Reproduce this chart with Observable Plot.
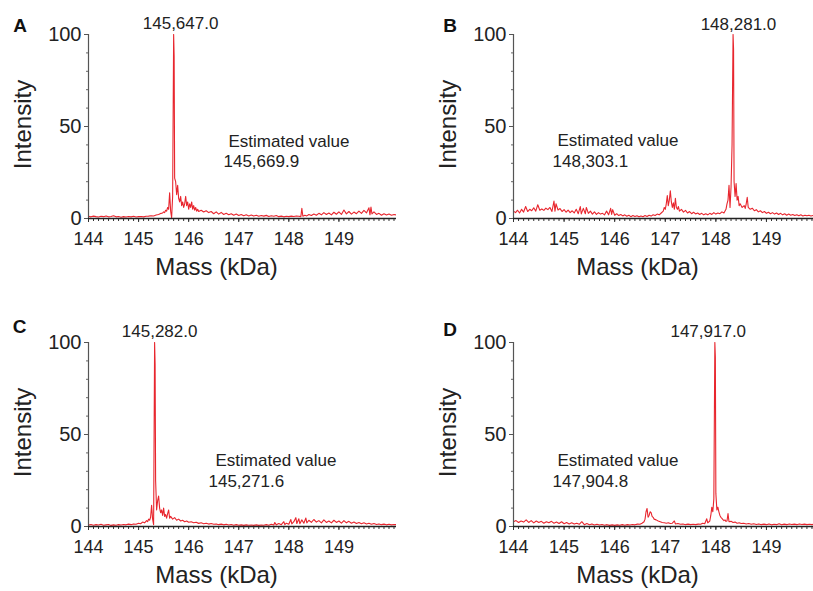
<!DOCTYPE html>
<html><head><meta charset="utf-8">
<script src="https://cdn.jsdelivr.net/npm/d3@7"></script>
<script src="https://cdn.jsdelivr.net/npm/@observablehq/plot@0.6"></script>
<style>
body{margin:0;background:#fff;}
#fig{position:relative;width:813px;height:591px;background:#fff;}
.panel{position:absolute;}
</style></head><body><div id="fig"></div>
<script>
// ---- Data (mass in kDa, relative intensity %) ----
const spectrumA = [[144.00,1.2],[144.05,0.9],[144.10,1.3],[144.15,1.0],[144.20,0.8],[144.25,1.2],[144.30,1.0],[144.35,1.4],[144.40,0.9],[144.45,1.1],[144.50,1.5],[144.55,0.9],[144.60,1.1],[144.65,0.7],[144.70,1.0],[144.75,0.8],[144.80,1.1],[144.85,0.9],[144.90,1.2],[144.95,0.8],[145.00,1.0],[145.05,1.1],[145.10,0.9],[145.15,1.2],[145.20,1.3],[145.25,1.5],[145.30,1.4],[145.35,1.9],[145.40,2.2],[145.45,2.8],[145.48,3.0],[145.50,3.6],[145.52,3.2],[145.54,4.5],[145.56,4.0],[145.58,6.0],[145.60,5.0],[145.62,14],[145.64,4.0],[145.66,0.5],[145.68,12],[145.70,100],[145.71,88],[145.72,22],[145.74,20],[145.76,13],[145.78,18],[145.80,11],[145.82,9],[145.84,12],[145.86,7],[145.88,9],[145.90,6],[145.92,8],[145.94,12],[145.96,7],[145.98,9],[146.00,5],[146.02,8],[146.04,6],[146.06,9],[146.08,5],[146.10,7],[146.12,4.5],[146.14,6],[146.16,4],[146.18,5],[146.20,3.8],[146.25,4.5],[146.30,3.5],[146.35,4.2],[146.40,3.2],[146.45,3.8],[146.50,2.6],[146.55,3.6],[146.60,2.4],[146.65,3.3],[146.70,2.2],[146.75,2.8],[146.80,2.0],[146.85,2.6],[146.90,1.8],[146.95,2.4],[147.00,1.6],[147.05,2.2],[147.10,1.5],[147.15,2.0],[147.20,1.4],[147.25,1.9],[147.30,1.3],[147.35,1.8],[147.40,1.2],[147.45,1.6],[147.50,1.3],[147.55,1.7],[147.60,1.1],[147.65,1.5],[147.70,1.2],[147.75,1.6],[147.80,1.0],[147.85,1.3],[147.90,0.9],[147.95,1.2],[148.00,1.0],[148.05,1.3],[148.10,1.1],[148.15,1.4],[148.20,1.2],[148.24,1.0],[148.26,5.5],[148.28,1.2],[148.32,1.8],[148.36,1.4],[148.40,2.2],[148.45,1.6],[148.50,2.4],[148.55,1.8],[148.60,2.8],[148.65,2.0],[148.70,3.2],[148.75,2.2],[148.80,3.0],[148.85,2.0],[148.90,3.4],[148.95,2.3],[149.00,3.6],[149.05,2.2],[149.10,4.6],[149.15,2.5],[149.20,3.8],[149.25,2.4],[149.30,3.5],[149.35,2.6],[149.40,4.0],[149.45,2.8],[149.50,4.4],[149.55,3.0],[149.60,5.8],[149.62,2.0],[149.64,6.2],[149.66,2.5],[149.70,3.6],[149.75,2.2],[149.80,2.8],[149.85,1.8],[149.90,2.6],[149.95,1.9],[150.00,2.4],[150.05,1.8],[150.10,2.2],[150.15,1.9]];

const spectrumB = [[144.00,4.0],[144.04,3.2],[144.08,4.5],[144.12,3.0],[144.16,5.0],[144.20,3.5],[144.24,6.5],[144.28,3.8],[144.32,5.0],[144.36,4.2],[144.40,5.8],[144.44,4.0],[144.48,7.5],[144.52,4.5],[144.56,5.2],[144.60,4.4],[144.64,5.6],[144.68,4.8],[144.72,6.0],[144.76,3.8],[144.80,9.5],[144.82,4.0],[144.84,8.0],[144.88,4.6],[144.92,5.4],[144.96,3.8],[145.00,4.8],[145.04,3.4],[145.08,4.6],[145.12,3.2],[145.16,4.2],[145.20,3.0],[145.24,5.0],[145.28,2.6],[145.32,6.5],[145.34,2.5],[145.38,5.5],[145.42,2.6],[145.44,6.0],[145.48,2.8],[145.52,4.0],[145.56,2.4],[145.60,3.6],[145.64,2.2],[145.68,3.2],[145.72,2.4],[145.76,2.8],[145.80,2.0],[145.84,4.0],[145.88,2.0],[145.92,5.5],[145.94,2.2],[145.96,4.8],[146.00,1.8],[146.04,2.6],[146.08,1.6],[146.12,2.2],[146.16,1.4],[146.20,2.0],[146.24,1.2],[146.28,1.8],[146.32,1.0],[146.36,1.6],[146.40,1.1],[146.44,1.5],[146.48,0.9],[146.52,1.4],[146.56,1.0],[146.60,1.6],[146.64,1.1],[146.68,1.8],[146.72,1.3],[146.76,2.0],[146.80,1.6],[146.84,2.4],[146.88,2.0],[146.92,3.0],[146.96,4.0],[146.98,6.0],[147.00,5.0],[147.02,8.0],[147.04,12.5],[147.06,7.0],[147.08,10.0],[147.10,15.0],[147.12,9.0],[147.14,6.0],[147.16,8.5],[147.18,5.0],[147.20,11.0],[147.22,6.0],[147.24,5.0],[147.26,6.5],[147.28,4.0],[147.32,5.0],[147.36,3.5],[147.40,4.4],[147.44,3.0],[147.48,3.8],[147.52,2.6],[147.56,3.4],[147.60,2.5],[147.64,3.0],[147.68,2.2],[147.72,2.8],[147.76,2.0],[147.80,2.6],[147.84,2.0],[147.88,2.8],[147.92,2.2],[147.96,3.2],[148.00,2.4],[148.04,3.0],[148.08,2.6],[148.12,3.6],[148.16,3.0],[148.20,5.0],[148.22,8.0],[148.24,10],[148.26,18],[148.28,6],[148.30,17],[148.32,40],[148.34,100],[148.35,92],[148.36,20],[148.38,12],[148.40,19],[148.42,10],[148.44,12],[148.46,7.0],[148.48,8.0],[148.52,6.0],[148.56,7.0],[148.58,5.5],[148.60,8.0],[148.62,11.5],[148.64,6.0],[148.68,5.0],[148.72,5.6],[148.76,4.2],[148.80,4.8],[148.84,3.6],[148.88,4.2],[148.92,3.2],[148.96,3.8],[149.00,2.8],[149.04,3.4],[149.08,2.6],[149.12,3.2],[149.16,2.4],[149.20,3.0],[149.24,2.2],[149.28,2.8],[149.32,2.0],[149.36,2.6],[149.40,1.8],[149.44,2.4],[149.48,1.8],[149.52,2.2],[149.56,1.6],[149.60,2.0],[149.64,1.5],[149.68,2.0],[149.72,1.4],[149.76,1.8],[149.80,1.5],[149.84,1.8],[149.88,1.4],[149.92,1.6]];

const spectrumC = [[144.00,0.8],[144.05,1.1],[144.10,0.7],[144.15,1.0],[144.20,0.8],[144.25,1.2],[144.30,0.7],[144.35,0.9],[144.40,1.1],[144.45,0.6],[144.50,0.9],[144.55,0.7],[144.60,1.0],[144.65,0.8],[144.70,1.1],[144.75,0.9],[144.80,1.3],[144.85,1.0],[144.90,1.4],[144.95,1.2],[145.00,1.8],[145.04,1.5],[145.08,2.4],[145.12,2.0],[145.16,3.2],[145.18,2.6],[145.20,4.0],[145.22,3.4],[145.24,5.0],[145.26,11.5],[145.28,4.0],[145.30,1.0],[145.32,100],[145.33,88],[145.34,25],[145.36,9],[145.38,14],[145.40,16.5],[145.42,10],[145.44,7.5],[145.46,9],[145.48,6],[145.50,10],[145.52,5.5],[145.54,6.5],[145.56,4.5],[145.58,7],[145.60,9],[145.62,4.5],[145.64,5.5],[145.68,4.0],[145.72,4.8],[145.76,3.4],[145.80,4.0],[145.84,3.0],[145.88,3.4],[145.92,2.6],[145.96,3.0],[146.00,2.3],[146.05,2.6],[146.10,2.0],[146.15,2.3],[146.20,1.7],[146.25,2.0],[146.30,1.5],[146.35,1.8],[146.40,1.3],[146.45,1.6],[146.50,1.2],[146.55,1.4],[146.60,1.0],[146.65,1.3],[146.70,0.9],[146.75,1.2],[146.80,0.8],[146.85,1.1],[146.90,0.7],[146.95,1.0],[147.00,0.7],[147.05,0.9],[147.10,0.6],[147.15,0.9],[147.20,0.7],[147.25,0.8],[147.30,0.6],[147.35,0.9],[147.40,0.6],[147.45,0.8],[147.50,0.7],[147.55,1.0],[147.60,0.7],[147.65,1.2],[147.70,0.8],[147.72,2.2],[147.75,0.9],[147.80,1.6],[147.85,1.0],[147.90,2.6],[147.92,1.0],[147.95,1.8],[148.00,1.2],[148.04,3.8],[148.06,1.4],[148.10,2.6],[148.14,4.8],[148.16,1.6],[148.20,4.2],[148.22,1.5],[148.26,3.6],[148.30,1.8],[148.34,4.6],[148.36,2.0],[148.40,3.4],[148.45,2.2],[148.50,3.8],[148.55,2.4],[148.60,3.2],[148.65,2.0],[148.70,3.6],[148.75,2.2],[148.80,3.0],[148.85,2.0],[148.90,3.4],[148.95,2.2],[149.00,3.0],[149.05,1.8],[149.10,3.2],[149.15,2.0],[149.20,2.8],[149.25,1.8],[149.30,2.4],[149.35,1.6],[149.40,2.2],[149.45,1.5],[149.50,2.0],[149.55,1.4],[149.60,1.8],[149.65,1.2],[149.70,1.6],[149.75,1.1],[149.80,1.4],[149.85,1.0],[149.90,1.3],[149.95,0.9],[150.00,1.2],[150.05,0.9],[150.10,1.1],[150.15,1.0]];

const spectrumD = [[144.00,2.6],[144.05,3.2],[144.10,2.2],[144.15,3.0],[144.20,2.4],[144.25,3.6],[144.30,2.2],[144.35,3.2],[144.40,2.0],[144.45,3.0],[144.50,2.2],[144.55,2.8],[144.60,1.8],[144.65,2.6],[144.70,2.0],[144.75,2.8],[144.80,1.8],[144.85,2.4],[144.90,1.6],[144.95,2.6],[145.00,1.5],[145.05,2.2],[145.10,1.4],[145.15,2.0],[145.20,1.3],[145.25,1.8],[145.30,1.2],[145.35,2.6],[145.40,1.0],[145.45,1.6],[145.50,1.0],[145.55,1.4],[145.60,0.8],[145.65,1.2],[145.70,0.8],[145.75,1.1],[145.80,0.7],[145.85,1.0],[145.90,0.6],[145.95,0.9],[146.00,0.6],[146.05,0.9],[146.10,0.7],[146.15,1.0],[146.20,0.7],[146.25,1.0],[146.30,0.8],[146.35,1.1],[146.40,0.9],[146.45,1.3],[146.50,1.2],[146.54,1.8],[146.58,2.6],[146.60,4.0],[146.62,8.0],[146.64,9.8],[146.66,5.0],[146.68,6.0],[146.70,8.0],[146.72,7.5],[146.74,5.5],[146.76,5.0],[146.78,4.0],[146.82,3.6],[146.86,3.0],[146.90,2.6],[146.94,2.2],[146.98,2.0],[147.02,1.8],[147.06,2.0],[147.10,1.6],[147.14,1.8],[147.18,3.0],[147.20,1.4],[147.25,1.6],[147.30,1.2],[147.35,1.4],[147.40,1.0],[147.45,1.3],[147.50,1.0],[147.55,1.2],[147.60,1.0],[147.65,1.3],[147.70,1.2],[147.74,1.8],[147.78,1.5],[147.82,4.2],[147.84,2.0],[147.88,3.0],[147.90,6.0],[147.92,10.5],[147.94,8.0],[147.96,15],[147.98,100],[147.99,92],[148.00,18],[148.02,9],[148.04,10.5],[148.06,8],[148.08,6],[148.10,5],[148.12,4.4],[148.14,3.8],[148.16,3.2],[148.18,3.6],[148.20,2.8],[148.22,3.0],[148.24,7.0],[148.26,2.6],[148.30,2.8],[148.34,2.2],[148.38,2.4],[148.42,1.8],[148.46,2.0],[148.50,1.6],[148.55,1.8],[148.60,1.4],[148.65,1.6],[148.70,1.2],[148.75,1.5],[148.80,1.1],[148.85,1.4],[148.90,1.0],[148.95,1.3],[149.00,1.0],[149.05,1.4],[149.10,0.9],[149.15,1.2],[149.20,1.0],[149.25,1.5],[149.30,0.9],[149.35,1.3],[149.40,1.0],[149.45,1.4],[149.50,1.1],[149.55,1.3],[149.60,1.0],[149.65,1.4],[149.70,1.1],[149.75,1.3],[149.80,1.0],[149.85,1.2],[149.90,1.0],[149.92,1.2]];

const panelLetters = ["A", "B", "C", "D"];
const peakMasses = [145647.0, 148281.0, 145282.0, 147917.0];
const estimatedValues = [145669.9, 148303.1, 145271.6, 147904.8];
const xTickValues = [144, 145, 146, 147, 148, 149];
const yTickValues = [0, 50, 100];
const xLabel = "Mass (kDa)";
const yLabel = "Intensity";
const estimatedLabel = "Estimated value";

// ---- Layout (styling only) ----
const layouts = [
  {left: 0,   top: 0,   width: 405, marginLeft: 88,  marginRight: 9, xMax: 150.15, letter: [-68.5, -9],  peakDx: 9.6,  peakDy: -11, est: [140, 107], val: [135, 127]},
  {left: 405, top: 0,   width: 408, marginLeft: 108, marginRight: 0, xMax: 149.93, letter: [-63.5, -9],  peakDx: 8.4,  peakDy: -10, est: [44, 106],  val: [39, 127]},
  {left: 0,   top: 308, width: 405, marginLeft: 88,  marginRight: 9, xMax: 150.15, letter: [-69, -15.5], peakDx: 6.9,  peakDy: -11, est: [127, 118], val: [120, 139]},
  {left: 405, top: 308, width: 408, marginLeft: 108, marginRight: 0, xMax: 149.93, letter: [-63.5, -13], peakDx: -3.4, peakDy: -11, est: [44, 118],  val: [39, 139]}
];
const spectra = [spectrumA, spectrumB, spectrumC, spectrumD];
const RED = "#e8262e";
const INK = "#222";
const fmt = d3.format(",.1f");

const fig = document.getElementById("fig");
spectra.forEach((spec, i) => {
  const L = layouts[i];
  const minorX = d3.range(144, L.xMax + 1e-9, 0.1);
  const minorY = d3.range(0, 100.1, 10);
  const plot = Plot.plot({
    width: L.width,
    height: 283,
    marginTop: 34,
    marginBottom: 65,
    marginLeft: L.marginLeft,
    marginRight: L.marginRight,
    style: {fontFamily: "'Liberation Sans', Arial, sans-serif", background: "white", color: INK},
    x: {domain: [144, L.xMax]},
    y: {domain: [0, 100]},
    marks: [
      Plot.axisX({ticks: minorX, tickSize: 3, tickFormat: () => "", label: null, stroke: "#333"}),
      Plot.axisX({ticks: xTickValues, tickSize: 4, tickPadding: 10, fontSize: 18, label: null, tickFormat: d => String(d), stroke: "#333", fill: INK}),
      Plot.axisY({ticks: minorY, tickSize: 2, tickFormat: () => "", label: null, stroke: "#666"}),
      Plot.axisY({ticks: yTickValues, tickSize: 4, tickPadding: 3, fontSize: 20, label: null, tickFormat: d => String(d), stroke: "#555", fill: INK}),
      Plot.line(spec, {x: d => d[0], y: d => d[1], stroke: RED, strokeWidth: 1.1, clip: true}),
      Plot.ruleX([144], {y1: 0, y2: 100, stroke: "#555", strokeWidth: 1.2}),
      Plot.ruleY([0], {stroke: "#222", strokeWidth: 1.5}),
      Plot.text([peakMasses[i]], {x: d => d / 1000, y: () => 100, text: d => fmt(d), dx: L.peakDx, dy: L.peakDy, fontSize: 17, fill: INK}),
      Plot.text([estimatedLabel], {frameAnchor: "top-left", text: d => d, textAnchor: "start", lineAnchor: "middle", dx: L.est[0], dy: L.est[1], fontSize: 17, fill: INK}),
      Plot.text([estimatedValues[i]], {frameAnchor: "top-left", text: d => fmt(d), textAnchor: "start", lineAnchor: "middle", dx: L.val[0], dy: L.val[1], fontSize: 17, fill: INK}),
      Plot.text([panelLetters[i]], {frameAnchor: "top-left", text: d => d, textAnchor: "middle", lineAnchor: "middle", dx: L.letter[0], dy: L.letter[1], fontSize: 19, fontWeight: "bold", fill: "#111"}),
      Plot.text([xLabel], {frameAnchor: "bottom", text: d => d, textAnchor: "middle", lineAnchor: "middle", dx: -26, dy: 49, fontSize: 24, fill: INK}),
      Plot.text([yLabel], {frameAnchor: "left", text: d => d, textAnchor: "middle", lineAnchor: "middle", rotate: -90, dx: -65, dy: -2, fontSize: 24, fill: INK})
    ]
  });
  const div = document.createElement("div");
  div.className = "panel";
  div.style.left = L.left + "px";
  div.style.top = L.top + "px";
  div.appendChild(plot);
  fig.appendChild(div);
});
</script>
</body></html>
